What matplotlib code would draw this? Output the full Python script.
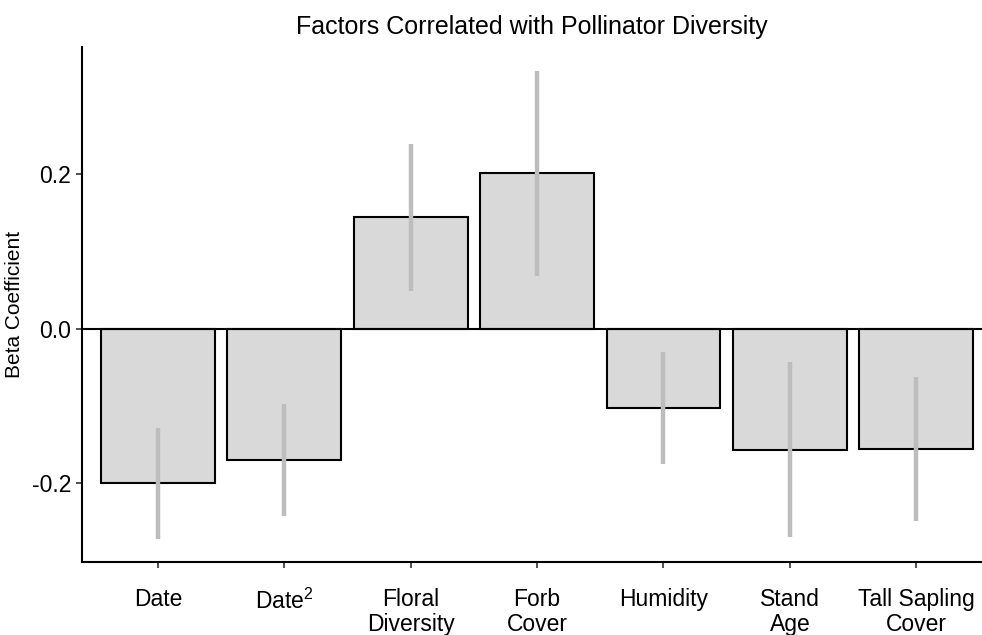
import matplotlib.pyplot as plt

plt.rcParams['font.family'] = ['Liberation Sans', 'DejaVu Sans']
plt.rcParams['mathtext.fontset'] = 'custom'
plt.rcParams['mathtext.rm'] = 'Liberation Sans'
plt.rcParams['mathtext.it'] = 'Liberation Sans'

factors = ["Date", "Date$^2$", "Floral\nDiversity", "Forb\nCover",
           "Humidity", "Stand\nAge", "Tall Sapling\nCover"]
beta = [-0.200, -0.170, 0.145, 0.202, -0.102, -0.157, -0.156]
ci_low = [-0.272, -0.242, 0.049, 0.069, -0.175, -0.269, -0.249]
ci_high = [-0.128, -0.097, 0.239, 0.334, -0.030, -0.043, -0.062]

fig = plt.figure(figsize=(9.82, 6.35), dpi=100)
ax = fig.add_axes([0.0835, 0.115, 0.9165, 0.811])

x = range(len(factors))
ax.bar(x, beta, width=0.9, color="#d9d9d9", edgecolor="black", linewidth=1.5, zorder=2)
ax.vlines(x, ci_low, ci_high, color="#bdbdbd", linewidth=3.2, zorder=3)
ax.axhline(0, color="black", linewidth=1.5, zorder=4)

ax.set_xlim(-0.6, 6.52)
ax.set_ylim(-0.3016, 0.365)
ax.set_yticks([-0.2, 0.0, 0.2])
ax.set_yticklabels(["-0.2", "0.0", "0.2"])
ax.set_xticks(list(x))
ax.set_xticklabels(factors, linespacing=1.1)

for side in ["top", "right"]:
    ax.spines[side].set_visible(False)
ax.spines["left"].set_linewidth(1.5)
ax.spines["bottom"].set_linewidth(1.5)
ax.tick_params(axis="both", labelsize=16.5, length=4, width=1.2, colors="#333333",
               labelcolor="black")
ax.tick_params(axis="x", pad=15)
ax.tick_params(axis="y", pad=4)

ax.set_ylabel("Beta Coefficient", fontsize=15)
ax.yaxis.set_label_coords(-0.064, 0.5)
ax.set_title("Factors Correlated with Pollinator Diversity", fontsize=18, pad=9, x=0.5)

fig.savefig("out.png", dpi=100)
